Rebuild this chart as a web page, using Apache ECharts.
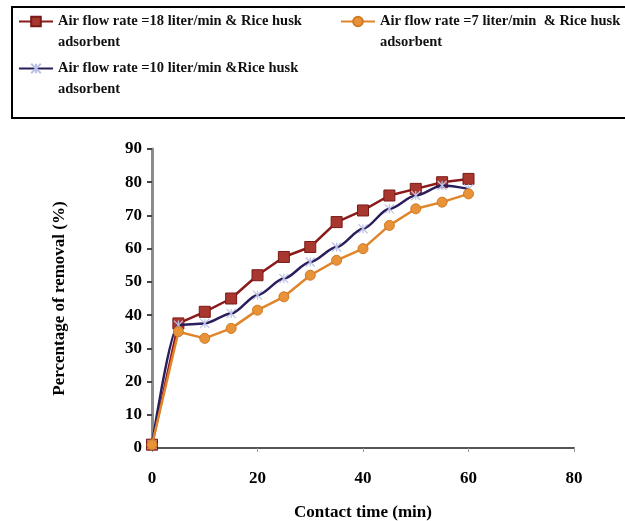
<!DOCTYPE html>
<html>
<head>
<meta charset="utf-8">
<script src="https://cdn.jsdelivr.net/npm/echarts@6/dist/echarts.min.js"></script>
<style>
  html, body { margin: 0; padding: 0; background: #fff; }
  #chart { width: 625px; height: 521px; }
</style>
</head>
<body>
<div id="chart"></div>
<script>
// contact time (min)
var times = [0, 5, 10, 15, 20, 25, 30, 35, 40, 45, 50, 55, 60];
// percentage of removal (%)
var flow18 = [1, 37.5, 41, 45, 52, 57.5, 60.5, 68, 71.5, 76, 78, 80, 81];
var flow7 = [1, 35, 33, 36, 41.5, 45.5, 52, 56.5, 60, 67, 72, 74, 76.5];
var flow10 = [1, 37, 37.5, 40.5, 46, 51, 56, 60.5, 66, 72, 76, 79, 78];

var names = [
    'Air flow rate =18 liter/min & Rice husk\nadsorbent',
    'Air flow rate =7 liter/min  & Rice husk\nadsorbent',
    'Air flow rate =10 liter/min &Rice husk\nadsorbent'
];

function pairs(xs, ys) {
    var out = [];
    for (var i = 0; i < xs.length; i++) out.push([xs[i], ys[i]]);
    return out;
}

var fontFam = '"Liberation Serif", "Times New Roman", serif';
var legendText = {
    fontFamily: fontFam, fontWeight: 'bold', fontSize: 14.5, color: '#111',
    lineHeight: 21
};

function oneLegend(name, left, top) {
    return {
        data: [name], left: left, top: top, padding: 0,
        itemWidth: 34, itemHeight: 12, itemGap: 4,
        textStyle: legendText,
        // blank first line so the icon sits beside the first text line
        formatter: function (n) { return ' \n' + n; }
    };
}

var chart = echarts.init(document.getElementById('chart'));

var option = {
    animation: false,
    backgroundColor: '#fff',
    graphic: [{
        type: 'rect',
        shape: { x: 12, y: 7, width: 700, height: 111 },
        style: { fill: 'none', stroke: '#000', lineWidth: 2 }
    }],
    legend: [
        oneLegend(names[0], 18, -10),
        oneLegend(names[1], 340, -10),
        oneLegend(names[2], 18, 37)
    ],
    grid: { left: 152, right: 51, top: 149, bottom: 73, outerBoundsMode: 'none' },
    xAxis: {
        type: 'value', min: 0, max: 80, interval: 20,
        name: 'Contact time (min)', nameLocation: 'middle', nameGap: 56,
        nameTextStyle: { fontFamily: fontFam, fontWeight: 'bold', fontSize: 17, color: '#000' },
        axisLine: { show: true, lineStyle: { color: '#555', width: 2 } },
        axisTick: { show: true, length: 4, lineStyle: { color: '#999' } },
        axisLabel: { margin: 22, fontFamily: fontFam, fontWeight: 'bold', fontSize: 17, color: '#000' },
        splitLine: { show: false }
    },
    yAxis: {
        type: 'value', min: 0, max: 90, interval: 10,
        name: 'Percentage of removal (%)', nameLocation: 'middle', nameGap: 84,
        nameTextStyle: { fontFamily: fontFam, fontWeight: 'bold', fontSize: 17, color: '#000' },
        axisLine: { show: true, lineStyle: { color: '#8c8c8c', width: 3 } },
        axisTick: { show: true, length: 5, lineStyle: { color: '#444', width: 2 } },
        axisLabel: { margin: 10, fontFamily: fontFam, fontWeight: 'bold', fontSize: 17, color: '#000' },
        splitLine: { show: false }
    },
    series: [
        {
            name: names[0], type: 'line', data: pairs(times, flow18),
            symbol: 'rect', symbolSize: 11,
            lineStyle: { color: '#8b1a1a', width: 2.5 },
            itemStyle: { color: '#a8382f', borderColor: '#7a1a16', borderWidth: 1 },
            z: 2
        },
        {
            name: names[2], type: 'line', data: pairs(times, flow10),
            smooth: 0.3, smoothMonotone: 'x',
            symbol: 'path://M0,0 L10,10 M10,0 L0,10 M5,0 L5,10', symbolSize: 9,
            lineStyle: { color: '#2a1e5c', width: 2.5 },
            itemStyle: { color: '#bcc2e6', borderColor: '#bcc2e6', borderWidth: 1.2 },
            z: 3
        },
        {
            name: names[1], type: 'line', data: pairs(times, flow7),
            symbol: 'circle', symbolSize: 10,
            lineStyle: { color: '#e0852a', width: 2.5 },
            itemStyle: { color: '#e8933a', borderColor: '#d07a22', borderWidth: 1 },
            z: 4
        }
    ]
};

chart.setOption(option);
</script>
</body>
</html>
